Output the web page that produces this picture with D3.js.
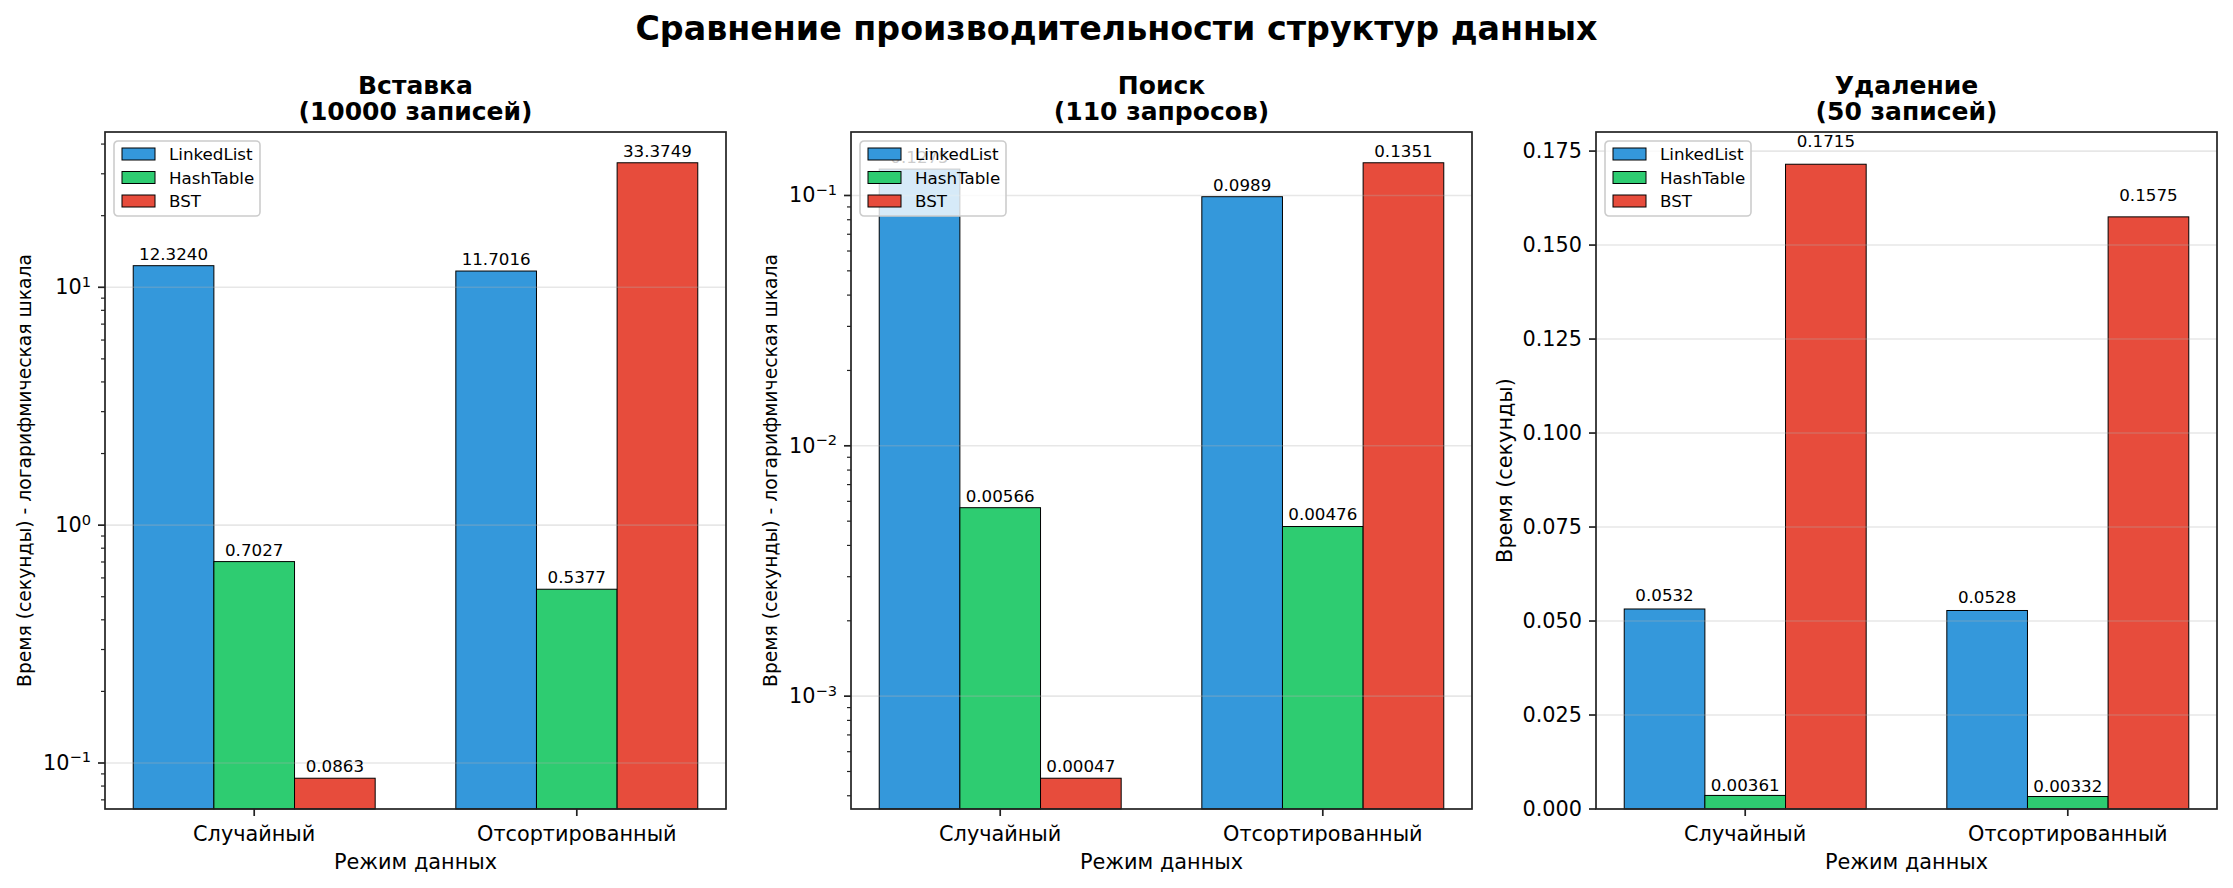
<!DOCTYPE html>
<html>
<head>
<meta charset="utf-8">
<script src="https://cdn.jsdelivr.net/npm/d3@7"></script>
<style>
  body { margin: 0; background: #fff; }
  text { font-family: "DejaVu Sans", sans-serif; fill: #000; }
</style>
</head>
<body>
<div id="chart"></div>
<script>
var w = 2233;
var h = 888;

// Data
var categories = ["Случайный", "Отсортированный"];
var seriesNames = ["LinkedList", "HashTable", "BST"];
var seriesColors = ["#3498db", "#2ecc71", "#e74c3c"];

var insertLinkedList = [12.3240, 11.7016];
var insertHashTable = [0.7027, 0.5377];
var insertBST = [0.0863, 33.3749];

var searchLinkedList = [0.1275, 0.0989];
var searchHashTable = [0.00566, 0.00476];
var searchBST = [0.00047, 0.1351];

var deleteLinkedList = [0.0532, 0.0528];
var deleteHashTable = [0.00361, 0.00332];
var deleteBST = [0.1715, 0.1575];

var deleteTicks = [0, 0.025, 0.05, 0.075, 0.1, 0.125, 0.15, 0.175];

var panels = [
  {
    title: ["Вставка", "(10000 записей)"],
    ylabel: "Время (секунды) - логарифмическая шкала",
    log: true,
    values: [insertLinkedList, insertHashTable, insertBST],
    left: 105
  },
  {
    title: ["Поиск", "(110 запросов)"],
    ylabel: "Время (секунды) - логарифмическая шкала",
    log: true,
    values: [searchLinkedList, searchHashTable, searchBST],
    left: 851
  },
  {
    title: ["Удаление", "(50 записей)"],
    ylabel: "Время (секунды)",
    log: false,
    values: [deleteLinkedList, deleteHashTable, deleteBST],
    ticks: deleteTicks,
    left: 1596
  }
];

var plotW = 621;
var plotTop = 132;
var plotBottom = 809;
var barW = 0.25;

var svg = d3
  .select("#chart")
  .append("svg")
  .attr("width", w)
  .attr("height", h);

svg
  .append("text")
  .attr("x", w / 2)
  .attr("y", 28)
  .attr("text-anchor", "middle")
  .attr("dominant-baseline", "central")
  .style("font-size", "33.3px")
  .style("font-weight", "bold")
  .text("Сравнение производительности структур данных");

function labelText(v) {
  return v >= 0.01 ? v.toFixed(4) : v.toFixed(5);
}

panels.forEach(function (p) {
  var g = svg.append("g");
  var left = p.left;
  var right = left + plotW;

  var xScale = d3
    .scaleLinear()
    .domain([-0.4625, 1.4625])
    .range([left, right]);

  var all = d3.merge(p.values);
  var yScale;
  if (p.log) {
    var lo = Math.log10(d3.min(all));
    var hi = Math.log10(d3.max(all));
    var m = (hi - lo) * 0.05;
    yScale = d3
      .scaleLog()
      .domain([Math.pow(10, lo - m), Math.pow(10, hi + m)])
      .range([plotBottom, plotTop]);
  } else {
    yScale = d3
      .scaleLinear()
      .domain([0, d3.max(all) * 1.05])
      .range([plotBottom, plotTop]);
  }

  // Bars
  p.values.forEach(function (vals, s) {
    g.selectAll(null)
      .data(vals)
      .enter()
      .append("rect")
      .attr("x", function (d, i) {
        return xScale(i + (s - 1) * barW - barW / 2);
      })
      .attr("y", function (d) {
        return yScale(d);
      })
      .attr("width", xScale(barW) - xScale(0))
      .attr("height", function (d) {
        return plotBottom - yScale(d);
      })
      .attr("fill", seriesColors[s])
      .attr("stroke", "#000")
      .attr("stroke-width", 1);
  });

  // Grid (over bars, like matplotlib default)
  var majors;
  if (p.log) {
    majors = yScale.ticks().filter(function (t) {
      return Math.abs(Math.log10(t) - Math.round(Math.log10(t))) < 1e-9;
    });
  } else {
    majors = p.ticks;
  }
  g.selectAll(null)
    .data(majors)
    .enter()
    .append("line")
    .attr("x1", left)
    .attr("x2", right)
    .attr("y1", function (d) { return yScale(d); })
    .attr("y2", function (d) { return yScale(d); })
    .attr("stroke", "#b0b0b0")
    .attr("stroke-opacity", 0.3)
    .attr("stroke-width", 1.6);

  // Value labels
  p.values.forEach(function (vals, s) {
    g.selectAll(null)
      .data(vals)
      .enter()
      .append("text")
      .attr("x", function (d, i) {
        return xScale(i + (s - 1) * barW);
      })
      .attr("y", function (d) {
        return yScale(d * 1.02) - 4;
      })
      .attr("text-anchor", "middle")
      .style("font-size", "16.7px")
      .text(function (d) { return labelText(d); });
  });

  // Y ticks
  if (p.log) {
    var minors = yScale.ticks().filter(function (t) {
      return majors.indexOf(t) < 0;
    });
    g.selectAll(null)
      .data(minors)
      .enter()
      .append("line")
      .attr("x1", left - 4)
      .attr("x2", left)
      .attr("y1", function (d) { return yScale(d); })
      .attr("y2", function (d) { return yScale(d); })
      .attr("stroke", "#222")
      .attr("stroke-width", 1.2);
  }
  g.selectAll(null)
    .data(majors)
    .enter()
    .append("line")
    .attr("x1", left - 7)
    .attr("x2", left)
    .attr("y1", function (d) { return yScale(d); })
    .attr("y2", function (d) { return yScale(d); })
    .attr("stroke", "#222")
    .attr("stroke-width", 1.7);

  var yl = g.selectAll(null)
    .data(majors)
    .enter()
    .append("text")
    .attr("x", left - 14)
    .attr("y", function (d) { return yScale(d); })
    .attr("text-anchor", "end")
    .attr("dominant-baseline", "central")
    .style("font-size", "20.8px");
  if (p.log) {
    yl.each(function (d) {
      var e = Math.round(Math.log10(d));
      var t = d3.select(this);
      t.append("tspan").text("10");
      t.append("tspan")
        .attr("dy", "-0.45em")
        .style("font-size", "14.6px")
        .text(e < 0 ? "\u2212" + (-e) : String(e));
    });
  } else {
    yl.text(function (d) { return d3.format(".3f")(d); });
  }

  // X ticks
  g.selectAll(null)
    .data(categories)
    .enter()
    .append("line")
    .attr("x1", function (d, i) { return xScale(i); })
    .attr("x2", function (d, i) { return xScale(i); })
    .attr("y1", plotBottom)
    .attr("y2", plotBottom + 7)
    .attr("stroke", "#222")
    .attr("stroke-width", 1.7);
  g.selectAll(null)
    .data(categories)
    .enter()
    .append("text")
    .attr("x", function (d, i) { return xScale(i); })
    .attr("y", 834)
    .attr("text-anchor", "middle")
    .attr("dominant-baseline", "central")
    .style("font-size", "20.8px")
    .text(function (d) { return d; });

  // Frame
  g.append("rect")
    .attr("x", left)
    .attr("y", plotTop)
    .attr("width", plotW)
    .attr("height", plotBottom - plotTop)
    .attr("fill", "none")
    .attr("stroke", "#222")
    .attr("stroke-width", 1.7);

  // Axis labels
  g.append("text")
    .attr("x", (left + right) / 2)
    .attr("y", 862)
    .attr("text-anchor", "middle")
    .attr("dominant-baseline", "central")
    .style("font-size", "20.8px")
    .text("Режим данных");

  var ylx = p.log ? left - 81 : left - 91;
  g.append("text")
    .attr("transform", "translate(" + ylx + "," + (plotTop + plotBottom) / 2 + ") rotate(-90)")
    .attr("text-anchor", "middle")
    .attr("dominant-baseline", "central")
    .style("font-size", p.log ? "18.75px" : "20.8px")
    .text(p.ylabel);

  // Title
  p.title.forEach(function (line, k) {
    g.append("text")
      .attr("x", (left + right) / 2)
      .attr("y", 85 + k * 26)
      .attr("text-anchor", "middle")
      .attr("dominant-baseline", "central")
      .style("font-size", "25px")
      .style("font-weight", "bold")
      .text(line);
  });

  // Legend
  var lg = g.append("g").attr("transform", "translate(" + (left + 9) + "," + (plotTop + 9) + ")");
  lg.append("rect")
    .attr("width", 146)
    .attr("height", 75)
    .attr("rx", 4)
    .attr("fill", "#fff")
    .attr("fill-opacity", 0.8)
    .attr("stroke", "#cccccc")
    .attr("stroke-width", 1.6);
  seriesNames.forEach(function (name, s) {
    lg.append("rect")
      .attr("x", 8)
      .attr("y", 7 + s * 23.5)
      .attr("width", 33)
      .attr("height", 12)
      .attr("fill", seriesColors[s])
      .attr("stroke", "#000")
      .attr("stroke-width", 1);
    lg.append("text")
      .attr("x", 55)
      .attr("y", 13 + s * 23.5)
      .attr("dominant-baseline", "central")
      .style("font-size", "16.7px")
      .text(name);
  });
});
</script>
</body>
</html>
